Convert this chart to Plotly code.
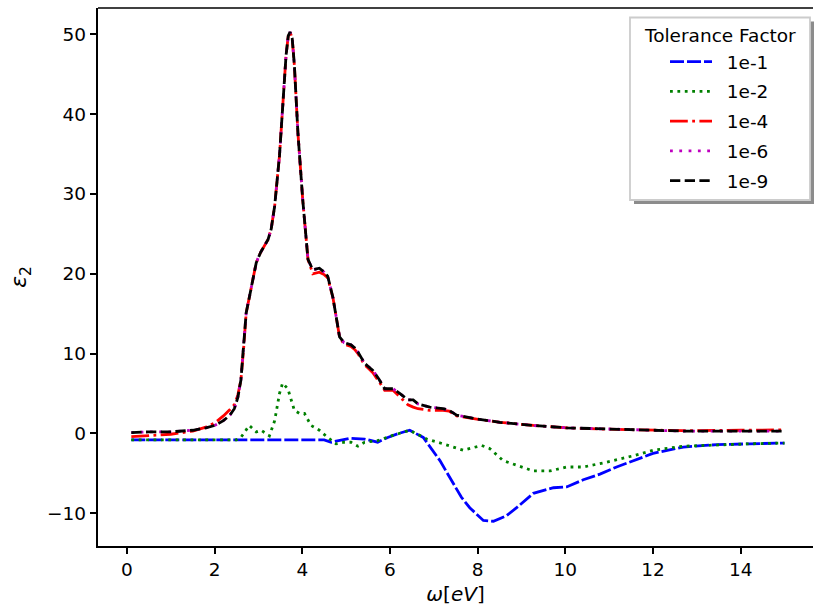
import plotly.graph_objects as go

# ---- data ----
x_black = [0.1, 0.5, 1.0, 1.5, 1.8, 2.0, 2.2, 2.35, 2.45, 2.53, 2.6, 2.66, 2.72, 2.79, 2.87, 2.95,
           3.05, 3.14, 3.22, 3.29, 3.37, 3.48, 3.55, 3.63, 3.68, 3.72, 3.77, 3.82, 3.90, 4.01, 4.13,
           4.24, 4.39, 4.5, 4.58, 4.70, 4.85, 4.95, 5.11, 5.2, 5.27, 5.42, 5.5, 5.61, 5.75, 5.88,
           6.07, 6.23, 6.41, 6.53, 6.64, 6.91, 7.21, 7.35, 7.52, 7.98, 8.51, 9.27, 10.03, 11.17,
           12.69, 14.0, 15.0]
y_1e9 = [0.1, 0.2, 0.2, 0.4, 0.7, 1.0, 1.6, 2.3, 3.1, 4.5, 6.7, 10.5, 15.1, 17.0, 19.3, 21.4,
         22.7, 23.5, 24.3, 25.6, 28.5, 34.8, 40.7, 47.4, 49.8, 50.3, 49.5, 46.1, 37.7, 29.3, 21.8,
         20.5, 20.7, 20.2, 19.7, 17.0, 12.1, 11.4, 11.1, 10.7, 10.2, 8.8, 8.4, 7.9, 6.8, 5.6,
         5.6, 5.0, 4.2, 4.2, 3.7, 3.3, 3.1, 2.9, 2.3, 1.8, 1.4, 1.0, 0.7, 0.5,
         0.3, 0.3, 0.3]
y_1e6 = list(y_1e9)
y_1e4 = [-0.4, -0.3, -0.1, 0.3, 0.8, 1.3, 2.2, 3.0, 3.6, 4.8, 6.7, 10.5, 15.1, 17.0, 19.3, 21.4,
         22.7, 23.5, 24.3, 25.6, 28.5, 34.8, 40.7, 47.4, 49.8, 50.3, 49.5, 46.1, 37.7, 29.3, 21.8,
         20.0, 20.2, 19.9, 19.5, 17.0, 12.1, 11.2, 10.9, 10.5, 10.0, 8.6, 8.2, 7.6, 6.5, 5.4,
         5.4, 4.6, 3.6, 3.3, 3.1, 2.9, 2.9, 2.8, 2.2, 1.8, 1.4, 1.0, 0.7, 0.5,
         0.35, 0.4, 0.45]

x_1e1 = [0.1, 1.0, 2.0, 3.0, 4.0, 4.5, 4.66, 5.11, 5.42, 5.72, 5.95, 6.2, 6.45, 6.76, 7.14, 7.37,
         7.63, 7.82, 8.13, 8.36, 8.66, 8.89, 9.27, 9.73, 10.03, 10.41, 10.79, 11.17, 11.55,
         12.0, 12.69, 13.46, 14.2, 15.0]
y_1e1 = [-0.8, -0.8, -0.8, -0.8, -0.8, -0.8, -1.1, -0.6, -0.7, -1.1, -0.5, 0.0, 0.4, -0.5, -3.4, -5.5,
         -8.0, -9.3, -10.9, -11.0, -10.3, -9.3, -7.5, -6.8, -6.7, -5.8, -5.1, -4.2, -3.4,
         -2.5, -1.7, -1.4, -1.3, -1.2]

x_1e2 = [0.1, 1.0, 2.0, 2.5, 2.6, 2.79, 2.95, 3.06, 3.25, 3.37, 3.48, 3.55, 3.67, 3.82, 3.94,
         4.05, 4.2, 4.39, 4.58, 4.77, 4.96, 5.11, 5.27, 5.42, 5.72, 6.03, 6.45, 6.84, 7.21,
         7.67, 8.09, 8.28, 8.58, 8.89, 9.27, 9.65, 10.03, 10.41, 10.94, 11.55, 12.0, 12.69,
         13.46, 14.2, 15.0]
y_1e2 = [-0.8, -0.8, -0.8, -0.8, -0.5, 1.0, 0.2, 0.4, -0.3, 1.6, 5.0, 6.3, 5.6, 2.9, 2.5,
         2.5, 1.0, 0.4, -0.5, -1.3, -1.1, -1.1, -1.6, -1.1, -0.9, -0.3, 0.4, -0.7, -1.3,
         -2.1, -1.5, -1.9, -3.4, -4.0, -4.7, -4.7, -4.2, -4.2, -3.6, -2.8, -2.1, -1.6,
         -1.4, -1.3, -1.2]

labels = ["1e-1", "1e-2", "1e-4", "1e-6", "1e-9"]
x_ticks = [0, 2, 4, 6, 8, 10, 12, 14]
y_ticks = [-10, 0, 10, 20, 30, 40, 50]

# ---- styling ----
FONT = "DejaVu Sans"
LW = 2.8
series = [
    (x_1e1, y_1e1, labels[0], "#0000ff", "14px,3px"),
    (x_1e2, y_1e2, labels[1], "#008000", "2.8px,4.6px"),
    (x_black, y_1e4, labels[2], "#ff0000", "17.8px,4.4px,2.8px,4.4px"),
    (x_black, y_1e6, labels[3], "#bf00bf", "2.8px,6.5px"),
    (x_black, y_1e9, labels[4], "#000000", "10.3px,4.4px"),
]

fig = go.Figure()
for i, (xs, ys, name, col, dash) in enumerate(series):
    fig.add_trace(go.Scatter(x=xs, y=ys, mode="lines", name="\u2004\u2009" + name, legendgroup=name,
                             line=dict(color=col, width=LW, dash=dash)))

L, T, R, B = 98, 8, 813, 546
W, H = 814, 609

def px(xp):
    return (xp - L) / (R - L)

def py(yp):
    return (B - yp) / (B - T)

shapes = [
    # top spine
    dict(type="line", xref="paper", yref="paper", x0=0, x1=1, y0=1, y1=1,
         line=dict(color="black", width=1.5), layer="above"),
    # legend shadow
    dict(type="rect", xref="paper", yref="paper", x0=px(634), x1=px(814), y0=py(204), y1=py(21.5),
         fillcolor="#8c8c8c", line=dict(width=0), layer="above"),
    # legend box
    dict(type="rect", xref="paper", yref="paper", x0=px(630), x1=px(810), y0=py(200), y1=py(17.5),
         fillcolor="white", line=dict(color="#cccccc", width=1.8), layer="above"),
]

fig.update_layout(
    width=W, height=H,
    margin=dict(l=L, r=W - R, t=T, b=H - B),
    plot_bgcolor="white", paper_bgcolor="white",
    font=dict(family=FONT, size=18.5, color="black"),
    shapes=shapes,
    showlegend=True,
    legend=dict(x=px(665), y=py(43), xanchor="left", yanchor="top",
                bgcolor="rgba(0,0,0,0)", borderwidth=0,
                font=dict(family=FONT, size=18.5, color="black"),
                tracegroupgap=2.7, itemwidth=42),
    annotations=[dict(text="Tolerance Factor", xref="paper", yref="paper", x=px(720), y=py(35),
                      xanchor="center", yanchor="middle", showarrow=False,
                      font=dict(family=FONT, size=18.5, color="black"))],
    xaxis=dict(range=[-0.66, 15.65], tickmode="array", tickvals=x_ticks,
               ticks="outside", ticklen=6.5, tickwidth=1.5, tickcolor="black",
               showline=True, linewidth=1.5, linecolor="black", showgrid=False, zeroline=False,
               tickfont=dict(family=FONT, size=18.5, color="black"),
               title=dict(text="<i>ω</i>[<i>eV</i>]", font=dict(family=FONT, size=20), standoff=8)),
    yaxis=dict(range=[-14.1, 53.3], tickmode="array", tickvals=y_ticks,
               ticks="outside", ticklen=6.5, tickwidth=1.5, tickcolor="black",
               showline=True, linewidth=1.5, linecolor="black", showgrid=False, zeroline=False,
               tickfont=dict(family=FONT, size=18.5, color="black"),
               title=dict(text="<i>ε</i><sub>2</sub>", font=dict(family=FONT, size=22), standoff=14)),
)

fig.write_html("out.html")
